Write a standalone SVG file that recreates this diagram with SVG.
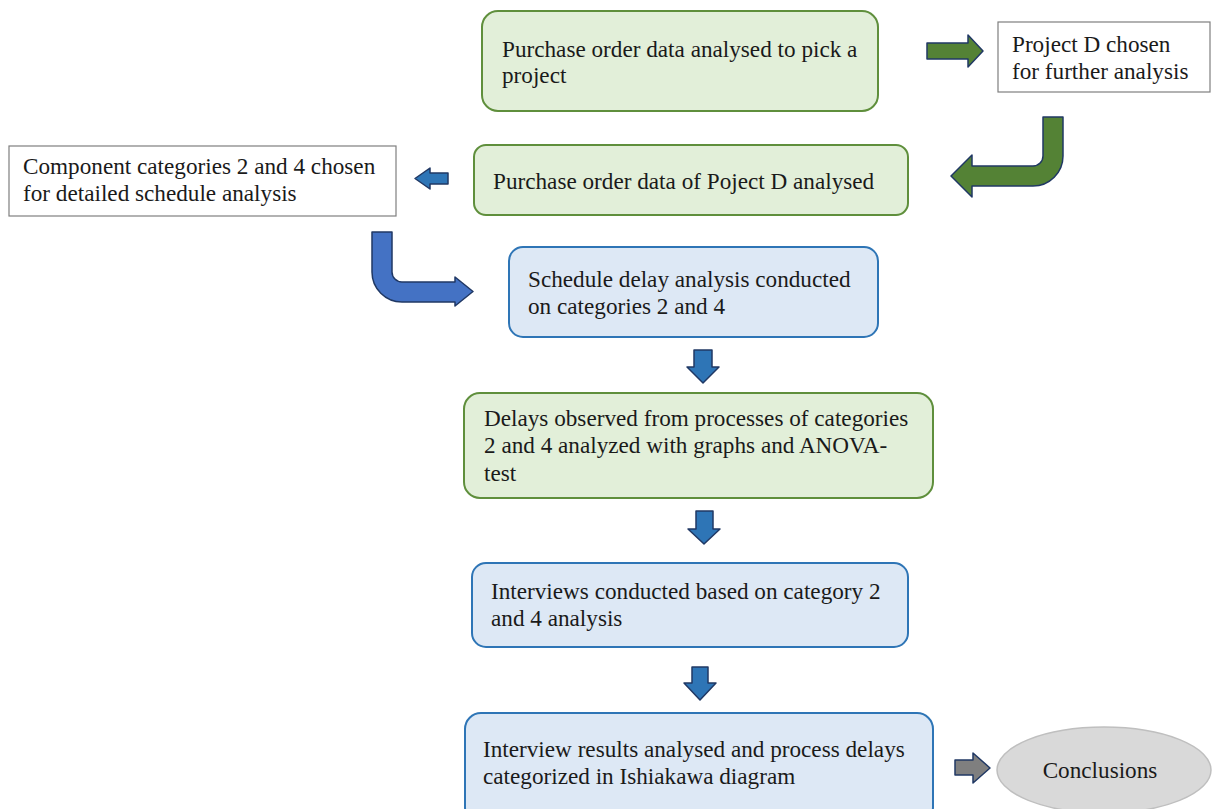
<svg xmlns="http://www.w3.org/2000/svg" width="1217" height="809" viewBox="0 0 1217 809">
  <style>
    .t { font-family: "Liberation Serif", "DejaVu Serif", "Times New Roman", serif; font-size: 23.2px; fill: #1a1a1a; }
    .green { fill: #e2efd9; stroke: #5f8f3c; stroke-width: 2; }
    .blue { fill: #dde8f5; stroke: #2e75b6; stroke-width: 2; }
    .plain { fill: #ffffff; stroke: #7f7f7f; stroke-width: 1.2; }
    .oval { fill: #d9d9d9; stroke: #bfbfbf; stroke-width: 1.5; }
    .arr-green { fill: #548235; stroke: #203864; stroke-width: 1.5; stroke-linejoin: round; }
    .arr-blue { fill: #2e75b6; stroke: #203864; stroke-width: 1.5; stroke-linejoin: round; }
    .arr-blue2 { fill: #4472c4; stroke: #203864; stroke-width: 1.5; stroke-linejoin: round; }
    .arr-gray { fill: #7f7f7f; stroke: #203864; stroke-width: 1.5; stroke-linejoin: round; }
  </style>

  <!-- block arrows between the steps -->
  <g id="connectors">
    <path class="arr-green" d="M927,43 L968,43 L968,35 L983,51 L968,67 L968,59 L927,59 Z"/>
    <path class="arr-green" d="M1043,117 L1063,117 L1063,156 A30,30 0 0 1 1033,186 L972,186 L972,197 L951,176 L972,155 L972,166 L1033,166 A10,10 0 0 0 1043,156 Z"/>
    <path class="arr-blue" d="M448,173 L430,173 L430,168 L415,178.5 L430,189 L430,184 L448,184 Z"/>
    <path class="arr-blue2" d="M372,232 L392,232 L392,272 A10,10 0 0 0 402,282 L455,282 L455,277 L473,291.5 L455,306 L455,302 L402,302 A30,30 0 0 1 372,272 Z"/>
    <path class="arr-blue" d="M694,350 L712,350 L712,367 L719,367 L703,383 L687,367 L694,367 Z"/>
    <path class="arr-blue" d="M696,511 L713,511 L713,529 L720,529 L704,544 L688,529 L696,529 Z"/>
    <path class="arr-blue" d="M692,667 L708,667 L708,683 L716,683 L700,700 L684,683 L692,683 Z"/>
    <path class="arr-gray" d="M955,760 L973,760 L973,753 L990,768 L973,783 L973,775 L955,775 Z"/>
  </g>

  <g id="pick-project">
    <rect class="green" x="482" y="11" width="396" height="100" rx="16"/>
    <text class="t" x="502" y="57">Purchase order data analysed to pick a</text>
    <text class="t" x="502" y="83">project</text>
  </g>

  <g id="project-d">
    <rect class="plain" x="998" y="22" width="212" height="70"/>
    <text class="t" x="1012" y="52">Project D chosen</text>
    <text class="t" x="1012" y="79">for further analysis</text>
  </g>

  <g id="project-d-analysed">
    <rect class="green" x="474" y="145" width="434" height="70" rx="12"/>
    <text class="t" x="493" y="189">Purchase order data of Poject D analysed</text>
  </g>

  <g id="categories-chosen">
    <rect class="plain" x="9" y="146" width="387" height="70"/>
    <text class="t" x="23" y="174">Component categories 2 and 4 chosen</text>
    <text class="t" x="23" y="201">for detailed schedule analysis</text>
  </g>

  <g id="schedule-delay">
    <rect class="blue" x="509" y="247" width="369" height="90" rx="14"/>
    <text class="t" x="528" y="287">Schedule delay analysis conducted</text>
    <text class="t" x="528" y="314">on categories 2 and 4</text>
  </g>

  <g id="delays-observed">
    <rect class="green" x="464" y="393" width="469" height="105" rx="16"/>
    <text class="t" x="484" y="426">Delays observed from processes of categories</text>
    <text class="t" x="484" y="453">2 and 4 analyzed with graphs and ANOVA-</text>
    <text class="t" x="484" y="481">test</text>
  </g>

  <g id="interviews">
    <rect class="blue" x="472" y="563" width="436" height="84" rx="14"/>
    <text class="t" x="491" y="599">Interviews conducted based on category 2</text>
    <text class="t" x="491" y="626">and 4 analysis</text>
  </g>

  <g id="ishikawa">
    <rect class="blue" x="465" y="713" width="468" height="110" rx="16"/>
    <text class="t" x="483" y="757">Interview results analysed and process delays</text>
    <text class="t" x="483" y="784">categorized in Ishiakawa diagram</text>
  </g>

  <g id="conclusions">
    <ellipse class="oval" cx="1104" cy="770" rx="107" ry="43"/>
    <text class="t" x="1100" y="778" text-anchor="middle">Conclusions</text>
  </g>
</svg>
